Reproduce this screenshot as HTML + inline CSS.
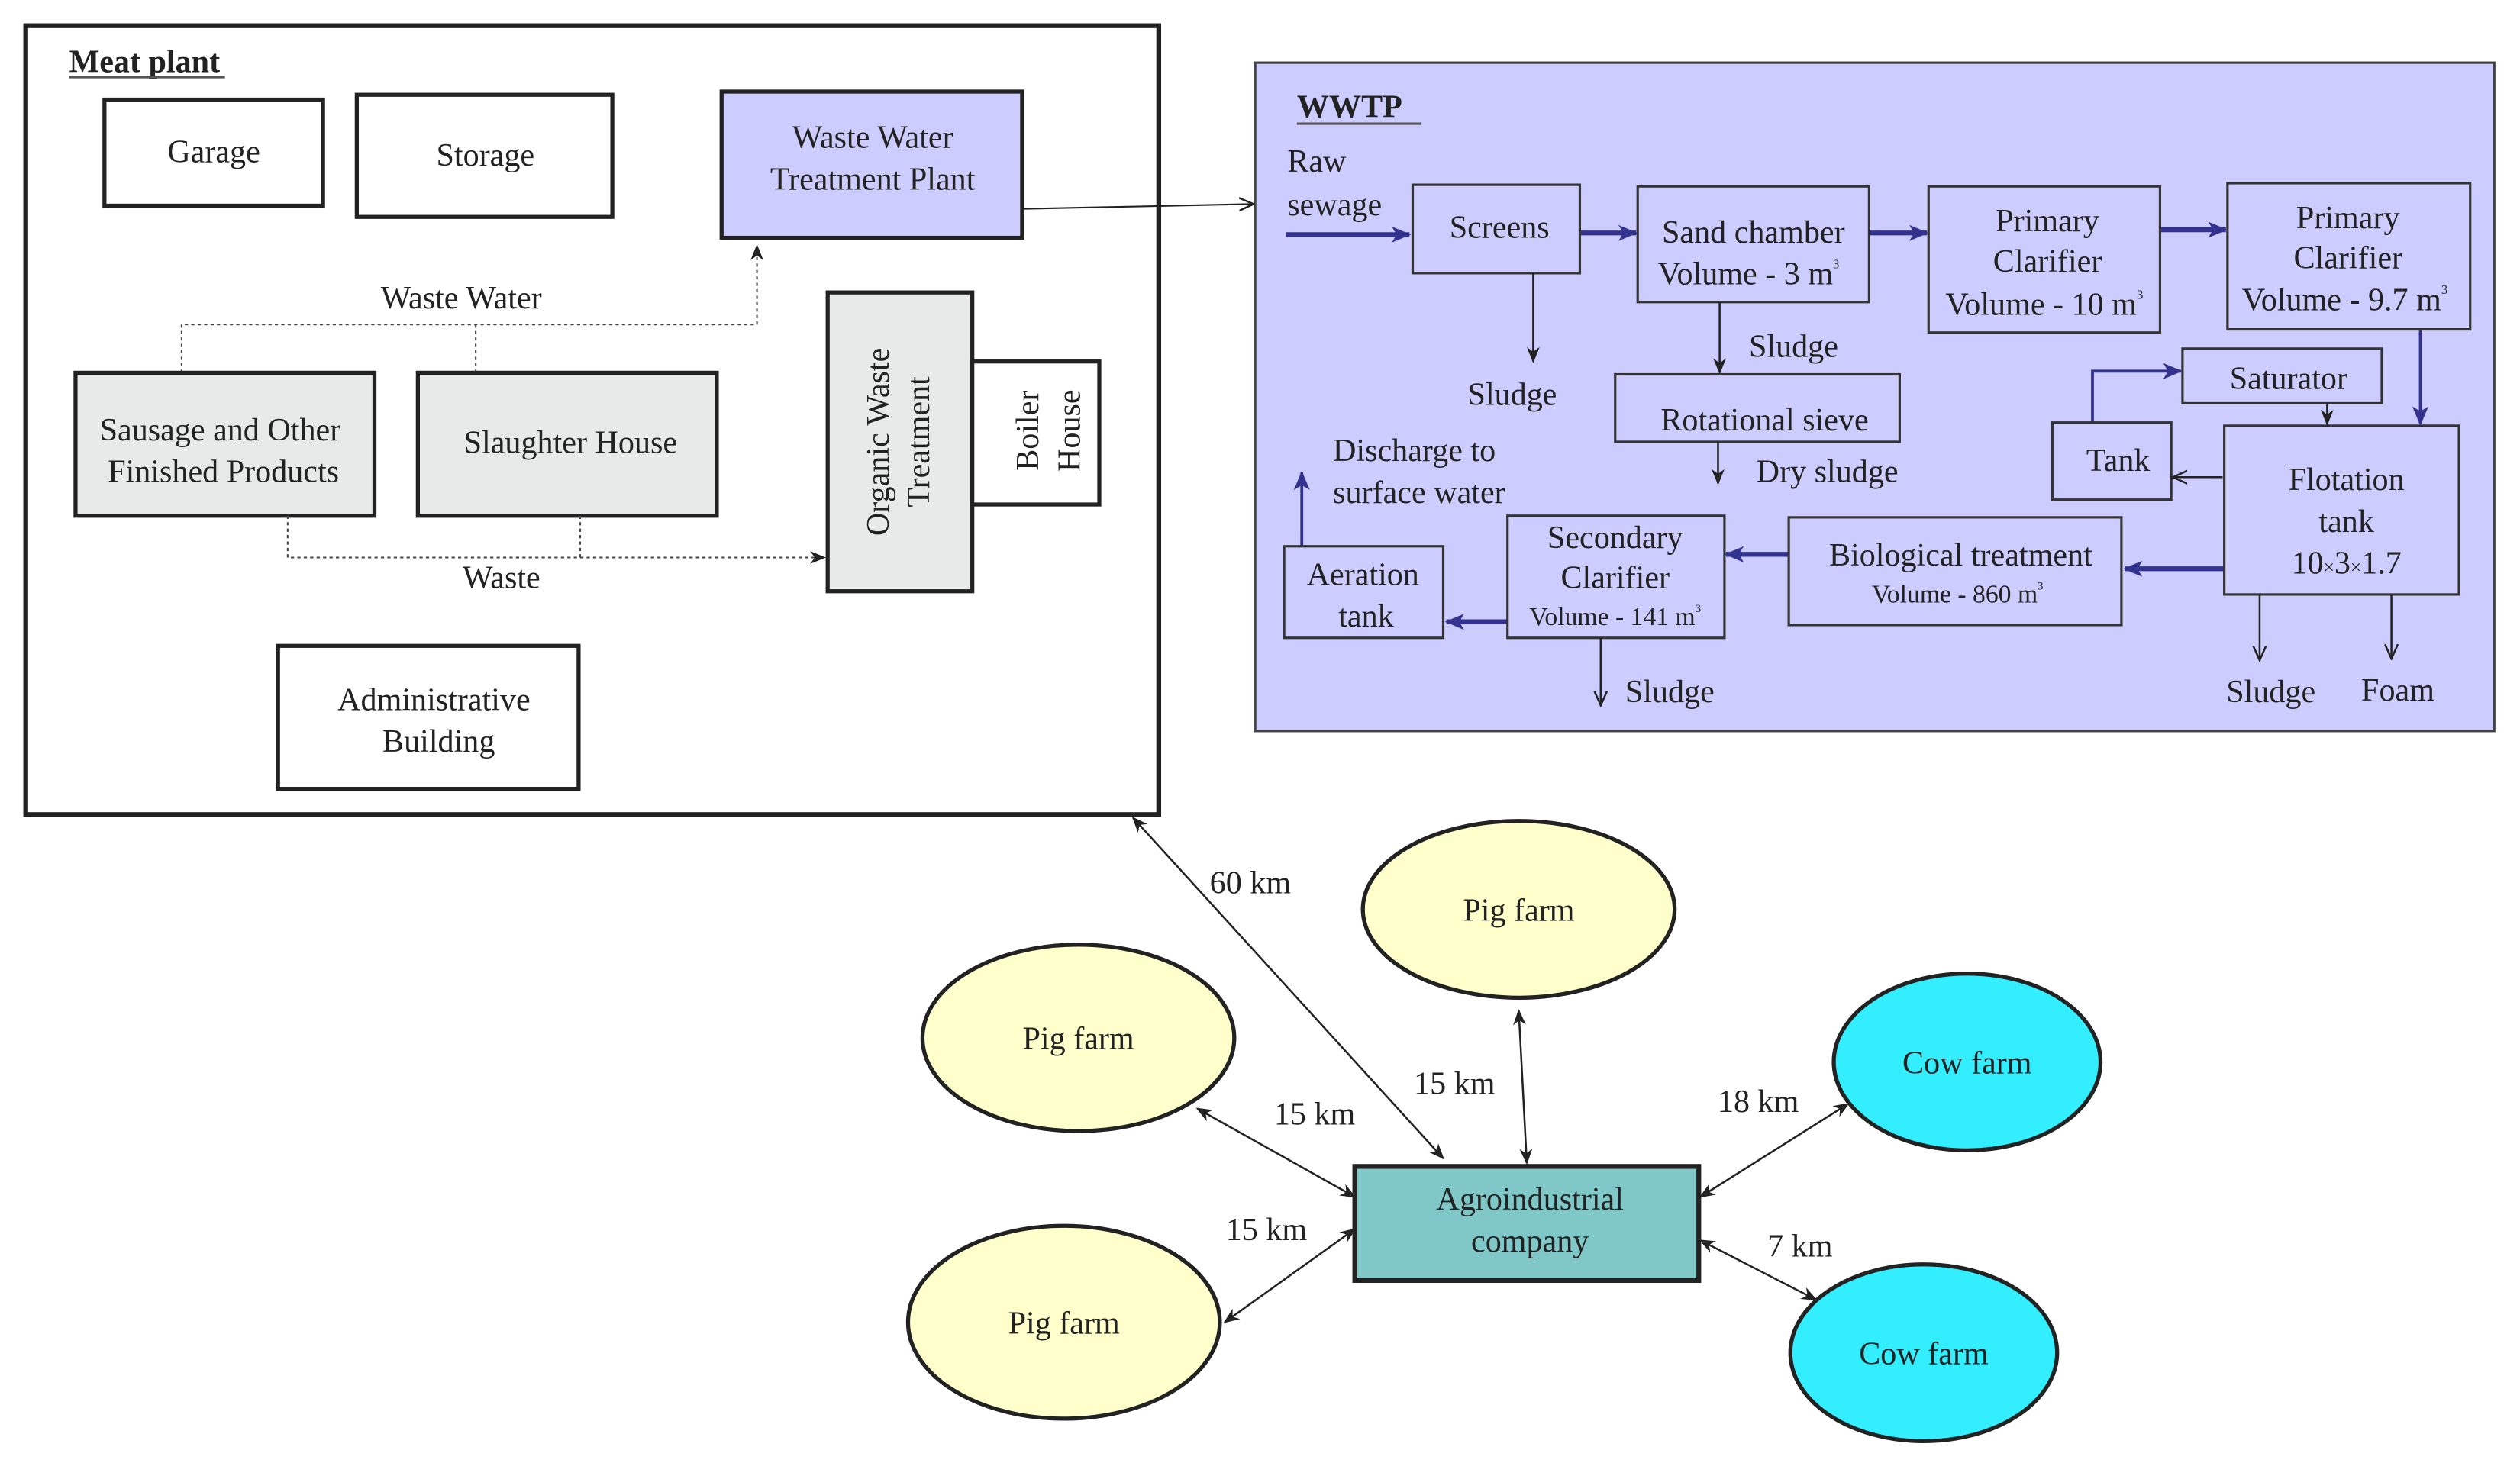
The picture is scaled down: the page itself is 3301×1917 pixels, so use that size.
<!DOCTYPE html>
<html><head><meta charset="utf-8"><style>
html,body{margin:0;padding:0;background:#fff;}
svg{display:block;}
text{font-family:"Liberation Serif","DejaVu Serif",serif;fill:#222;}
</style></head><body>
<svg width="3301" height="1917" viewBox="0 0 1568 910.6" preserveAspectRatio="none" xmlns="http://www.w3.org/2000/svg">
<defs>
<marker id="a" markerWidth="10" markerHeight="8" refX="9" refY="4" orient="auto" markerUnits="userSpaceOnUse"><path d="M0,0 L10,4 L0,8 L3,4 z" fill="#222"/></marker>
<marker id="as" markerWidth="10" markerHeight="8" refX="1" refY="4" orient="auto" markerUnits="userSpaceOnUse"><path d="M10,0 L0,4 L10,8 L7,4 z" fill="#222"/></marker>
<marker id="b" markerWidth="12" markerHeight="10" refX="11" refY="5" orient="auto" markerUnits="userSpaceOnUse"><path d="M0,0 L12,5 L0,10 L3,5 z" fill="#33338f"/></marker>
<marker id="o" markerWidth="10" markerHeight="10" refX="8" refY="5" orient="auto" markerUnits="userSpaceOnUse"><path d="M0,1 L9,5 L0,9" fill="none" stroke="#222" stroke-width="1.2"/></marker>
</defs>
<g font-size="20" text-anchor="middle" font-family="Liberation Serif, serif">
<!-- Meat plant -->
<rect x="16" y="16" width="705" height="491" fill="#fff" stroke="#222" stroke-width="3"/>
<text x="43" y="45" text-anchor="start" font-weight="bold" font-size="20">Meat plant</text>
<line x1="43" y1="48" x2="140" y2="48" stroke="#555" stroke-width="1.5"/>
<rect x="65" y="62" width="136" height="66" fill="#fff" stroke="#222" stroke-width="2.5"/>
<text x="133" y="101">Garage</text>
<rect x="222" y="59" width="159" height="76" fill="#fff" stroke="#222" stroke-width="2.5"/>
<text x="302" y="103">Storage</text>
<rect x="449" y="57" width="187" height="91" fill="#ccccff" stroke="#222" stroke-width="2.5"/>
<text x="543" y="92">Waste Water</text><text x="543" y="118">Treatment Plant</text>
<line x1="636" y1="130" x2="779" y2="127" stroke="#222" stroke-width="1" marker-end="url(#o)"/>
<text x="287" y="192">Waste Water</text>
<path d="M113,232 V202 H471 V153" fill="none" stroke="#444" stroke-width="1" stroke-dasharray="2,2" marker-end="url(#a)"/>
<line x1="296" y1="202" x2="296" y2="232" stroke="#444" stroke-width="1" stroke-dasharray="2,2"/>
<rect x="47" y="232" width="186" height="89" fill="#e8eaea" stroke="#222" stroke-width="2.5"/>
<text x="137" y="274">Sausage and Other</text><text x="139" y="300">Finished Products</text>
<rect x="260" y="232" width="186" height="89" fill="#e8eaea" stroke="#222" stroke-width="2.5"/>
<text x="355" y="282">Slaughter House</text>
<path d="M179,321 V347 H513" fill="none" stroke="#444" stroke-width="1" stroke-dasharray="2,2" marker-end="url(#a)"/>
<line x1="361" y1="321" x2="361" y2="347" stroke="#444" stroke-width="1" stroke-dasharray="2,2"/>
<text x="312" y="366">Waste</text>
<rect x="515" y="182" width="90" height="186" fill="#e8eaea" stroke="#222" stroke-width="2.5"/>
<text transform="translate(553,275) rotate(-90)">Organic Waste</text>
<text transform="translate(578,275) rotate(-90)">Treatment</text>
<rect x="605" y="225" width="79" height="89" fill="#fff" stroke="#222" stroke-width="2.5"/>
<text transform="translate(646,268) rotate(-90)">Boiler</text>
<text transform="translate(672,268) rotate(-90)">House</text>
<rect x="173" y="402" width="187" height="89" fill="#fff" stroke="#222" stroke-width="2.5"/>
<text x="270" y="442">Administrative</text><text x="273" y="468">Building</text>

<!-- WWTP -->
<rect x="781" y="39" width="771" height="416" fill="#ccccff" stroke="#444" stroke-width="1.5"/>
<text x="807" y="73" text-anchor="start" font-weight="bold">WWTP</text>
<line x1="807" y1="77" x2="884" y2="77" stroke="#555" stroke-width="1.5"/>
<text x="801" y="107" text-anchor="start">Raw</text><text x="801" y="134" text-anchor="start">sewage</text>
<g stroke="#33338f" stroke-width="3" fill="none">
<line x1="800" y1="146" x2="877" y2="146" marker-end="url(#b)"/>
<line x1="983" y1="145" x2="1018" y2="145" marker-end="url(#b)"/>
<line x1="1163" y1="145" x2="1199" y2="145" marker-end="url(#b)"/>
<line x1="1344" y1="143" x2="1385" y2="143" marker-end="url(#b)"/>
<line x1="1384" y1="354" x2="1322" y2="354" marker-end="url(#b)"/>
<line x1="1113" y1="345" x2="1074" y2="345" marker-end="url(#b)"/>
<line x1="938" y1="387" x2="900" y2="387" marker-end="url(#b)"/>
</g>
<g stroke="#33338f" stroke-width="1.8" fill="none">
<line x1="1506" y1="205" x2="1506" y2="264" marker-end="url(#b)"/>
<path d="M1302,263 V231 H1357" marker-end="url(#b)"/>
<line x1="810" y1="340" x2="810" y2="294" marker-end="url(#b)"/>
</g>
<g fill="#ccccff" stroke="#333" stroke-width="1.5">
<rect x="879" y="115" width="104" height="55"/>
<rect x="1019" y="116" width="144" height="72"/>
<rect x="1200" y="116" width="144" height="91"/>
<rect x="1386" y="114" width="151" height="91"/>
<rect x="1005" y="233" width="177" height="42"/>
<rect x="1358" y="217" width="124" height="34"/>
<rect x="1277" y="263" width="74" height="48"/>
<rect x="1384" y="265" width="146" height="105"/>
<rect x="1113" y="322" width="207" height="67"/>
<rect x="938" y="321" width="135" height="76"/>
<rect x="799" y="340" width="99" height="57"/>
</g>
<text x="933" y="148">Screens</text>
<text x="1091" y="151">Sand chamber</text><text x="1088" y="177">Volume - 3 m<tspan font-size="8" dy="-10">3</tspan></text>
<text x="1274" y="144">Primary</text><text x="1274" y="169">Clarifier</text><text x="1272" y="196">Volume - 10 m<tspan font-size="8" dy="-10">3</tspan></text>
<text x="1461" y="142">Primary</text><text x="1461" y="167">Clarifier</text><text x="1459" y="193">Volume - 9.7 m<tspan font-size="8" dy="-10">3</tspan></text>
<text x="1098" y="268">Rotational sieve</text>
<text x="1424" y="242">Saturator</text>
<text x="1318" y="293">Tank</text>
<text x="1460" y="305">Flotation</text><text x="1460" y="331">tank</text><text x="1460" y="357">10<tspan font-size="12">×</tspan>3<tspan font-size="12">×</tspan>1.7</text>
<text x="1220" y="352">Biological treatment</text><text x="1218" y="375" font-size="16">Volume - 860 m<tspan font-size="7" dy="-8">3</tspan></text>
<text x="1005" y="341">Secondary</text><text x="1005" y="366">Clarifier</text><text x="1005" y="389" font-size="16">Volume - 141 m<tspan font-size="7" dy="-8">3</tspan></text>
<text x="848" y="364">Aeration</text><text x="850" y="390">tank</text>
<g stroke="#222" stroke-width="1.2" fill="none">
<line x1="954" y1="170" x2="954" y2="225" marker-end="url(#a)"/>
<line x1="1070" y1="188" x2="1070" y2="232" marker-end="url(#a)"/>
<line x1="1069" y1="275" x2="1069" y2="301" marker-end="url(#a)"/>
<line x1="1448" y1="251" x2="1448" y2="264" marker-end="url(#a)"/>
<line x1="1383" y1="297" x2="1353" y2="297" marker-end="url(#o)"/>
<line x1="1406" y1="370" x2="1406" y2="410" marker-end="url(#o)"/>
<line x1="1488" y1="370" x2="1488" y2="409" marker-end="url(#o)"/>
<line x1="996" y1="397" x2="996" y2="438" marker-end="url(#o)"/>
</g>
<text x="941" y="252">Sludge</text>
<text x="1116" y="222">Sludge</text>
<text x="1137" y="300">Dry sludge</text>
<text x="1413" y="437">Sludge</text><text x="1492" y="436">Foam</text>
<text x="1039" y="437">Sludge</text>
<text x="880" y="287">Discharge to</text><text x="883" y="313">surface water</text>

<!-- bottom -->
<g stroke="#222" stroke-width="1.2" marker-start="url(#as)" marker-end="url(#a)">
<line x1="705" y1="509" x2="898" y2="721"/>
<line x1="945" y1="629" x2="950" y2="724"/>
<line x1="745" y1="690" x2="843" y2="745"/>
<line x1="762" y1="823" x2="843" y2="765"/>
<line x1="1150" y1="687" x2="1058" y2="745"/>
<line x1="1058" y1="772" x2="1130" y2="809"/>
</g>
<g fill="#ffffcc" stroke="#222" stroke-width="2.5">
<ellipse cx="945" cy="566" rx="97" ry="55"/>
<ellipse cx="671" cy="646" rx="97" ry="58"/>
<ellipse cx="662" cy="823" rx="97" ry="60"/>
</g>
<g fill="#33eeff" stroke="#222" stroke-width="2.5">
<ellipse cx="1224" cy="661" rx="83" ry="55"/>
<ellipse cx="1197" cy="842" rx="83" ry="55"/>
</g>
<rect x="843" y="726" width="214" height="71" fill="#80c8c8" stroke="#222" stroke-width="3"/>
<text x="952" y="753">Agroindustrial</text><text x="952" y="779">company</text>
<text x="945" y="573">Pig farm</text>
<text x="671" y="653">Pig farm</text>
<text x="662" y="830">Pig farm</text>
<text x="1224" y="668">Cow farm</text>
<text x="1197" y="849">Cow farm</text>
<text x="778" y="556">60 km</text>
<text x="905" y="681">15 km</text>
<text x="818" y="700">15 km</text>
<text x="788" y="772">15 km</text>
<text x="1094" y="692">18 km</text>
<text x="1120" y="782">7 km</text>
</g>
</svg>
</body></html>
